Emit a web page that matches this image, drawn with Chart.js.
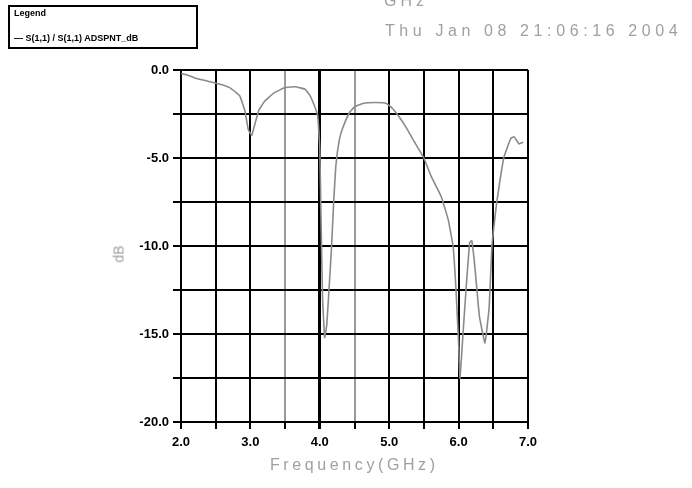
<!DOCTYPE html>
<html>
<head>
<meta charset="utf-8">
<script src="https://cdn.jsdelivr.net/npm/chart.js@4.4.1/dist/chart.umd.min.js"></script>
<style>
  body { margin: 0; background: #fff; }
  #wrap { position: relative; width: 692px; height: 488px; overflow: hidden; }
  .txt { position: absolute; font-family: "Liberation Sans", Arial, sans-serif; white-space: nowrap; }
  #legendBox { left: 8px; top: 5px; width: 190px; height: 44px; border: 2px solid #000; box-sizing: border-box; }
  #legendTitle { left: 14px; top: 8px; font-size: 9px; font-weight: bold; }
  #legendItem { left: 14px; top: 33px; font-size: 9px; font-weight: bold; }
  #topUnit { left: 384px; top: -8px; font-size: 16px; color: #a0a0a0; letter-spacing: 4px; }
  #stamp { left: 385px; top: 22px; font-size: 16px; color: #a0a0a0; letter-spacing: 4.6px; }
  #xTitle { left: 270px; top: 456px; font-size: 16px; color: #a0a0a0; letter-spacing: 3.6px; }
  #yTitle { left: 110px; top: 246px; font-size: 14px; color: #a0a0a0; transform: rotate(-90deg); }
</style>
</head>
<body>
<div id="wrap">
  <canvas id="chart"></canvas>
  <div class="txt" id="legendBox"></div>
  <div class="txt" id="legendTitle">Legend</div>
  <div class="txt" id="legendItem">— S(1,1) / S(1,1) ADSPNT_dB</div>
  <div class="txt" id="topUnit">GHz</div>
  <div class="txt" id="stamp">Thu Jan 08 21:06:16 2004</div>
  <div class="txt" id="xTitle">Frequency(GHz)</div>
  <div class="txt" id="yTitle">dB</div>
</div>
<script>
// DATA
var freq = [2.0, 2.1, 2.2, 2.3, 2.4, 2.5, 2.6, 2.7, 2.8, 2.85, 2.92, 2.97, 3.02, 3.07, 3.12, 3.2,
            3.34, 3.5, 3.65, 3.79, 3.85, 3.91, 3.97, 4.0, 4.02, 4.04, 4.07, 4.1, 4.14, 4.17, 4.2,
            4.23, 4.28, 4.33, 4.43, 4.5, 4.62, 4.8, 4.96, 5.05, 5.15, 5.25, 5.35, 5.5, 5.6, 5.75,
            5.85, 5.92, 5.96, 6.0, 6.02, 6.06, 6.11, 6.16, 6.19, 6.23, 6.3, 6.38, 6.44, 6.48, 6.52,
            6.55, 6.65, 6.75, 6.8, 6.87, 6.93];
var s11dB = [-0.2, -0.3, -0.45, -0.55, -0.65, -0.75, -0.85, -1.0, -1.3, -1.5, -2.3, -3.4, -3.7, -3.0, -2.3, -1.8,
             -1.3, -1.0, -0.95, -1.1, -1.4, -1.9, -2.6, -4.5, -9.0, -13.0, -15.2, -14.5, -12.0, -10.0, -7.5,
             -5.5, -4.0, -3.3, -2.4, -2.1, -1.9, -1.85, -1.9, -2.2, -2.7, -3.3, -4.0, -5.0, -6.0, -7.2,
             -8.5, -10.0, -12.3, -15.5, -17.5, -15.2, -12.3, -9.8, -9.7, -11.0, -14.0, -15.5, -13.5, -10.0, -8.5,
             -7.5, -5.0, -3.9, -3.8, -4.2, -4.1];
var xTicks = [2.0, 3.0, 4.0, 5.0, 6.0, 7.0];
var yTicks = [0.0, -5.0, -10.0, -15.0, -20.0];
var greyLines = [3.5, 4.5];

var points = freq.map(function(f, i) { return { x: f, y: s11dB[i] }; });

window.onload = function() {
    createChart();
};

function createChart(){
    var ctx = document.getElementById('chart').getContext('2d');
    new Chart(ctx, {
        type: 'line',
        data: {
            datasets: [{
                label: 'S(1,1)',
                data: points,
                borderColor: '#8a8a8a',
                borderWidth: 1.6,
                pointRadius: 0,
                fill: false,
                tension: 0.1
            }]
        },
        options: {
            responsive: true,
            maintainAspectRatio: false,
            animation: false,
            layout: {
                padding: { top: 70, right: 164, bottom: 0, left: 0 }
            },
            scales: {
                x: {
                    type: 'linear',
                    min: 2,
                    max: 7,
                    afterFit: function(scale) { scale.height = 66; },
                    ticks: {
                        stepSize: 0.5,
                        autoSkip: false,
                        maxRotation: 0,
                        color: '#000',
                        padding: 6,
                        font: { family: 'Liberation Sans', size: 13, weight: 'bold' },
                        callback: function(v) { return xTicks.indexOf(v) >= 0 ? v.toFixed(1) : ''; }
                    },
                    grid: {
                        color: function(c) {
                            var v = c.tick ? c.tick.value : null;
                            return greyLines.indexOf(v) >= 0 ? '#9a9a9a' : '#000';
                        },
                        lineWidth: function(c) {
                            var v = c.tick ? c.tick.value : null;
                            if (v === 4) return 3;
                            return 2;
                        },
                        tickLength: 7,
                        tickColor: '#000'
                    },
                    border: { color: '#000', width: 2 }
                },
                y: {
                    min: -20,
                    max: 0,
                    afterFit: function(scale) { scale.width = 181; },
                    ticks: {
                        stepSize: 2.5,
                        autoSkip: false,
                        color: '#000',
                        padding: 4,
                        font: { family: 'Liberation Sans', size: 13, weight: 'bold' },
                        callback: function(v) {
                            return yTicks.indexOf(v) >= 0 ? (v === 0 ? '0.0' : v.toFixed(1)) : '';
                        }
                    },
                    grid: {
                        color: '#000',
                        lineWidth: 2,
                        tickLength: 8,
                        tickColor: '#000'
                    },
                    border: { color: '#000', width: 2 }
                }
            },
            plugins: {
                legend: { display: false },
                tooltip: { enabled: false }
            }
        }
    });
}
</script>
</body>
</html>
